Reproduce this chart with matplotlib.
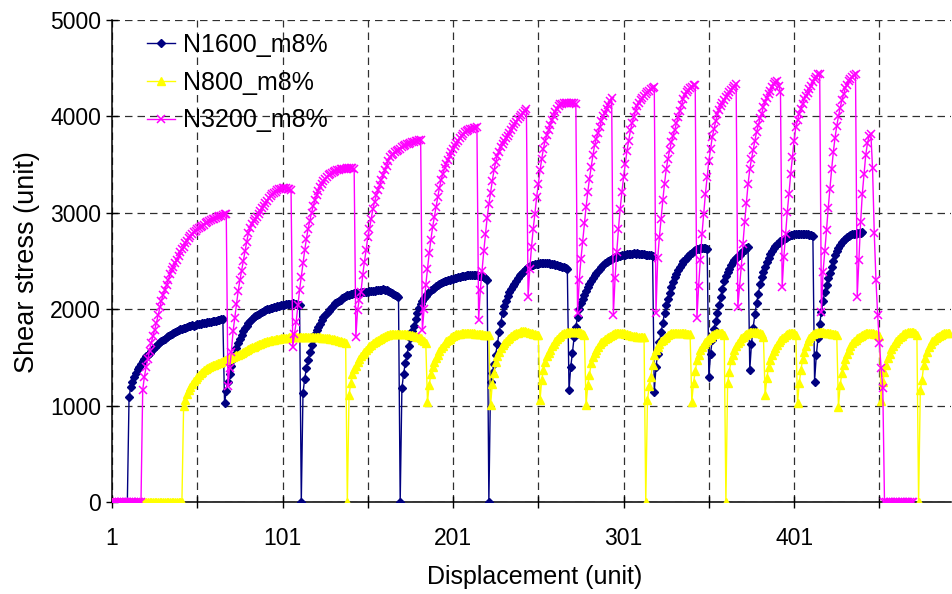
import numpy as np
import matplotlib
matplotlib.use("Agg")
import matplotlib.pyplot as plt

plt.rcParams['font.family'] = ['Liberation Sans', 'DejaVu Sans']

# ---------------- data ----------------
series_names = ["N1600_m8%", "N800_m8%", "N3200_m8%"]
x_tick_labels = ["1", "101", "201", "301", "401"]
y_ticks = [0, 1000, 2000, 3000, 4000, 5000]

n1600 = [
    0, 0, 0, 0, 0, 0, 0, 0, 0, 0,
    1090, 1190, 1250, 1300, 1340, 1375, 1405, 1435, 1460, 1485,
    1510, 1530, 1550, 1570, 1590, 1605, 1620, 1640, 1655, 1670,
    1680, 1695, 1710, 1720, 1735, 1745, 1755, 1765, 1770, 1780,
    1790, 1795, 1805, 1810, 1815, 1825, 1830, 1835, 1830, 1840,
    1845, 1850, 1850, 1855, 1860, 1860, 1865, 1870, 1870, 1875,
    1880, 1880, 1885, 1890, 1895, 1900,
    1025,
    1150, 1250, 1330, 1410, 1480, 1540, 1600, 1650, 1690, 1730,
    1770, 1800, 1830, 1855, 1880, 1900, 1915, 1930, 1945, 1955,
    1965, 1975, 1985, 1995, 2000, 2005, 2010, 2015, 2020, 2025,
    2030, 2035, 2040, 2040, 2045, 2050, 2055, 2050, 2055, 2060,
    2055, 2050, 2045, 2040,
    0,
    1130, 1280, 1385, 1470, 1555, 1625, 1690, 1740, 1780, 1815,
    1850, 1885, 1915, 1940, 1960, 1985, 2005, 2025, 2040, 2060,
    2075, 2090, 2100, 2115, 2125, 2135, 2145, 2150, 2155, 2160,
    2165, 2165, 2170, 2170, 2175, 2175, 2180, 2175, 2180, 2185,
    2190, 2185, 2190, 2195, 2195, 2200, 2200, 2205, 2200, 2195,
    2190, 2180, 2170, 2160, 2150, 2140, 2130,
    0,
    1180, 1330, 1440, 1530, 1620, 1700, 1770, 1830, 1900, 1960,
    2010, 2055, 2090, 2115, 2140, 2160, 2180, 2195, 2210, 2225,
    2240, 2250, 2260, 2270, 2280, 2290, 2295, 2300, 2305, 2310,
    2315, 2320, 2325, 2330, 2335, 2340, 2340, 2345, 2350, 2350,
    2355, 2355, 2350, 2355, 2350, 2345, 2345, 2340, 2335, 2320,
    2300,
    0,
    1250, 1340, 1430, 1530, 1640, 1760, 1860, 1960, 2030, 2090,
    2140, 2180, 2210, 2240, 2265, 2290, 2320, 2350, 2370, 2390,
    2405, 2420, 2435, 2445, 2455, 2460, 2465, 2470, 2470, 2475,
    2480, 2480, 2475, 2480, 2475, 2470, 2470, 2465, 2460, 2455,
    2450, 2445, 2440, 2435, 2425, 2420,
    1160,
    1400, 1550, 1710, 1820, 1920, 2000, 2060, 2110, 2150, 2190,
    2230, 2260, 2290, 2320, 2350, 2375, 2400, 2420, 2440, 2460,
    2475, 2490, 2505, 2515, 2525, 2535, 2540, 2545, 2550, 2555,
    2560, 2565, 2565, 2570, 2570, 2575, 2575, 2580, 2575, 2580,
    2575, 2575, 2570, 2570, 2565, 2565, 2560, 2560, 2555,
    1145,
    1400, 1540, 1660, 1760, 1860, 1960, 2040, 2110, 2170, 2230,
    2280, 2330, 2370, 2405, 2440, 2470, 2495, 2515, 2535, 2555,
    2570, 2585, 2600, 2610, 2620, 2625, 2630, 2635, 2635, 2630,
    2620,
    1300,
    1540, 1680, 1790, 1880, 1960, 2040, 2130, 2210, 2290, 2340,
    2385, 2420, 2455, 2490, 2510, 2530, 2550, 2565, 2585, 2600,
    2615, 2630, 2645,
    1370,
    1640, 1810, 1950, 2060, 2160, 2260, 2330, 2390, 2440, 2490,
    2530, 2570, 2600, 2630, 2655, 2675, 2690, 2705, 2720, 2730,
    2740, 2750, 2760, 2765, 2770, 2775, 2780, 2780, 2785, 2785,
    2785, 2785, 2780, 2775, 2770, 2765, 2755,
    1250,
    1520, 1700, 1850, 1970, 2090, 2180, 2250, 2320, 2380, 2440,
    2500, 2560, 2600, 2640, 2670, 2700, 2715, 2730, 2745, 2755,
    2765, 2775, 2780, 2785, 2790, 2790, 2795, 2800,
]

n800 = [
    0, 0, 0, 0, 0, 0, 0, 0, 0, 0,
    0, 0, 0, 0, 0, 0, 0, 0, 0, 0,
    0, 0, 0, 0, 0, 0, 0, 0, 0, 0,
    0, 0, 0, 0, 0, 0, 0, 0, 0, 0,
    0, 0,
    1000, 1060, 1120, 1160, 1195, 1225, 1255, 1280, 1300, 1320,
    1335, 1350, 1365, 1378, 1390, 1400, 1410, 1418, 1425, 1432,
    1440, 1447, 1455, 1462, 1470, 1477, 1485, 1492, 1500, 1507,
    1515, 1522, 1530, 1537, 1545, 1555, 1565, 1575, 1585, 1594,
    1603, 1612, 1620, 1628, 1636, 1643, 1650, 1657, 1663, 1668,
    1673, 1677, 1681, 1685, 1688, 1691, 1694, 1697, 1699, 1701,
    1703, 1705, 1707, 1708, 1710, 1711, 1712, 1713, 1714, 1714,
    1715, 1715, 1716, 1715, 1715, 1714, 1714, 1712, 1711, 1710,
    1708, 1706, 1704, 1702, 1700, 1697, 1694, 1690, 1686, 1682,
    1677, 1672, 1667, 1662, 1656, 1650,
    0,
    1110, 1230, 1330, 1380, 1410, 1450, 1485, 1510, 1535, 1560,
    1580, 1600, 1615, 1630, 1645, 1660, 1672, 1685, 1695, 1705,
    1715, 1722, 1728, 1735, 1740, 1742, 1745, 1745, 1746, 1745,
    1744, 1743, 1742, 1740, 1738, 1736, 1733, 1730, 1726, 1722,
    1716, 1708, 1698, 1685, 1668, 1650,
    1040,
    1210, 1330, 1400, 1450, 1490, 1530, 1565, 1595, 1620, 1645,
    1665, 1680, 1695, 1710, 1722, 1732, 1738, 1742, 1745, 1748,
    1750, 1750, 1752, 1752, 1750, 1750, 1748, 1746, 1745, 1742,
    1740, 1738, 1736, 1734, 1732, 1728,
    1007,
    1220, 1335, 1450, 1510, 1560, 1600, 1630, 1650, 1670, 1690,
    1705, 1720, 1732, 1742, 1750, 1758, 1765, 1770, 1772, 1770,
    1765, 1760, 1755, 1750, 1745, 1740, 1736, 1732,
    1059,
    1270, 1370, 1450, 1510, 1545, 1580, 1615, 1640, 1665, 1690,
    1710, 1725, 1738, 1748, 1756, 1762, 1766, 1768, 1768, 1767,
    1766, 1764, 1760, 1752, 1745, 1735,
    1007,
    1215, 1320, 1440, 1500, 1545, 1580, 1610, 1635, 1655, 1675,
    1690, 1702, 1715, 1725, 1735, 1742, 1748, 1750, 1752, 1752,
    1750, 1748, 1745, 1740, 1735, 1730, 1725, 1720, 1718, 1715,
    1715, 1714, 1712, 1710,
    0,
    1060, 1200, 1300, 1420, 1520, 1580, 1610, 1640, 1665, 1680,
    1700, 1715, 1728, 1740, 1748, 1752, 1755, 1756, 1756, 1755,
    1752, 1750, 1748, 1745, 1742, 1740,
    1041,
    1235, 1355, 1470, 1530, 1575, 1610, 1640, 1662, 1682, 1700,
    1715, 1730, 1740, 1748, 1754, 1756, 1755, 1748, 1735,
    0,
    1232, 1352, 1470, 1530, 1577, 1615, 1650, 1675, 1698, 1715,
    1730, 1742, 1752, 1760, 1765, 1766, 1765, 1762, 1758, 1750,
    1738, 1715,
    1111,
    1283, 1400, 1470, 1525, 1565, 1600, 1628, 1655, 1678, 1698,
    1714, 1728, 1740, 1750, 1756, 1758, 1750, 1732,
    1024,
    1232, 1370, 1480, 1560, 1620, 1665, 1700, 1725, 1740, 1750,
    1756, 1760, 1762, 1762, 1760, 1758, 1755, 1752, 1750, 1746,
    1742, 1738, 1730,
    990,
    1214, 1335, 1420, 1480, 1540, 1580, 1615, 1645, 1665, 1682,
    1698, 1712, 1725, 1735, 1742, 1748, 1750, 1752, 1750, 1748,
    1745, 1740, 1735, 1725,
    1050,
    1240, 1350, 1420, 1490, 1540, 1590, 1620, 1650, 1675, 1695,
    1712, 1725, 1738, 1748, 1755, 1760, 1765, 1766, 1762, 1752,
    1735,
    0,
    1160, 1266, 1420, 1490, 1560, 1610, 1640, 1665, 1685, 1700,
    1712, 1725, 1735, 1742, 1748, 1750, 1752, 1752,
]

n3200 = [
    0, 0, 0, 0, 0, 0, 0, 0, 0, 0,
    0, 0, 0, 0, 0, 0, 0, 0,
    1160, 1300, 1400, 1480, 1570, 1650, 1720, 1785, 1855, 1935,
    2020, 2090, 2150, 2200, 2255, 2300, 2360, 2405, 2440, 2480,
    2515, 2550, 2590, 2620, 2650, 2685, 2710, 2735, 2755, 2780,
    2800, 2815, 2828, 2840, 2852, 2865, 2878, 2890, 2902, 2912,
    2922, 2932, 2940, 2948, 2956, 2963, 2970, 2978, 2985, 2990,
    1200, 1390, 1560, 1770, 1910, 2050, 2190, 2300, 2400, 2500,
    2600, 2700, 2790, 2840, 2880, 2910, 2935, 2955, 2985, 3015,
    3045, 3075, 3100, 3125, 3150, 3170, 3190, 3205, 3220, 3232,
    3242, 3250, 3256, 3260, 3258, 3252, 3245, 3235,
    1610, 1740, 1870, 2040, 2200, 2335, 2475, 2610, 2730, 2835,
    2920, 3000, 3070, 3130, 3180, 3230, 3265, 3300, 3330, 3350,
    3370, 3390, 3405, 3415, 3425, 3432, 3440, 3445, 3450, 3452,
    3455, 3458, 3460, 3460, 3462, 3460, 3458,
    1710, 1990, 2100, 2180, 2350, 2490, 2610, 2750, 2835, 2940,
    3040, 3115, 3180, 3235, 3290, 3340, 3390, 3440, 3490, 3540,
    3575, 3595, 3612, 3628, 3642, 3655, 3667, 3678, 3689, 3699,
    3710, 3718, 3726, 3733, 3739, 3744, 3748, 3751, 3752,
    1780, 2000, 2250, 2420, 2580, 2720, 2850, 2955, 3055, 3160,
    3260, 3340, 3405, 3460, 3510, 3550, 3590, 3628, 3660, 3692,
    3722, 3750, 3775, 3798, 3818, 3836, 3848, 3858, 3866, 3872,
    3878, 3884, 3888,
    1890, 2200, 2400, 2600, 2780, 2950, 3090, 3210, 3330, 3440,
    3530, 3590, 3635, 3680, 3715, 3745, 3775, 3800, 3830, 3860,
    3890, 3920, 3945, 3968, 3990, 4010, 4035, 4060, 4080,
    2130, 2420, 2645, 2835, 2990, 3160, 3300, 3440, 3560, 3665,
    3750, 3805, 3855, 3910, 3960, 4000, 4045, 4080, 4110, 4125,
    4132, 4137, 4138, 4140, 4138, 4137, 4136, 4134, 4130,
    1960, 2300, 2520, 2700, 2890, 3060, 3215, 3355, 3475, 3595,
    3700, 3770, 3830, 3890, 3950, 4000, 4040, 4080, 4120, 4160,
    4195,
    1940, 2320, 2595, 2835, 3040, 3215, 3370, 3510, 3645, 3750,
    3855, 3930, 3995, 4060, 4110, 4140, 4165, 4190, 4215, 4235,
    4252, 4268, 4283, 4295, 4302,
    1960, 2526, 2749, 2940, 3129, 3302, 3450, 3560, 3650, 3730,
    3800, 3860, 3930, 3990, 4060, 4120, 4180, 4220, 4250, 4275,
    4295, 4310, 4325, 4330,
    1905, 2240, 2510, 2785, 2990, 3200, 3370, 3540, 3665, 3785,
    3870, 3950, 4020, 4070, 4110, 4140, 4170, 4200, 4225, 4250,
    4270, 4295, 4320, 4340,
    2025, 2230, 2440, 2680, 2900, 3100, 3300, 3450, 3560, 3650,
    3750, 3840, 3906, 3980, 4030, 4100, 4150, 4190, 4235, 4265,
    4300, 4337, 4355, 4372, 4320, 4250,
    2232, 2545, 2785, 3010, 3200, 3405, 3580, 3750, 3890, 3960,
    4030, 4080, 4130, 4180, 4215, 4245, 4280, 4320, 4360, 4385,
    4410, 4435, 4445,
    1973, 2390, 2600, 2820, 3050, 3250, 3450, 3630, 3780, 3900,
    4000, 4090, 4165, 4230, 4290, 4330, 4365, 4390, 4410, 4430,
    4445,
    2128, 2508, 2900, 3200, 3400, 3600, 3720, 3800, 3820, 3460,
    2790, 2300, 1940, 1650, 1390, 1180,
    0, 0, 0, 0, 0, 0, 0, 0, 0, 0,
    0, 0, 0, 0, 0, 0, 0, 0,
]

# ---------------- figure ----------------
W, H = 953, 594
fig = plt.figure(figsize=(W / 100, H / 100), dpi=100)
L, R, T, B = 112, 951, 20, 502
ax = fig.add_axes([L / W, 1 - B / H, (R - L) / W, (B - T) / H])

x1 = np.arange(1, len(n1600) + 1)
x2 = np.arange(1, len(n800) + 1)
x3 = np.arange(1, len(n3200) + 1)

ax.plot(x1, n1600, color='#000080', marker='D', ms=4.2, lw=1.0,
        mec='#000080', mfc='#000080', label=series_names[0], zorder=3)
ax.plot(x2, n800, color='#FFFF00', marker='^', ms=5.5, lw=1.0,
        mec='#FFFF00', mfc='#FFFF00', label=series_names[1], zorder=4)
ax.plot(x3, n3200, color='#FF00FF', marker='x', ms=5.8, mew=1.1, lw=1.0,
        label=series_names[2], zorder=5)

ax.set_xlim(1, 493)
ax.set_ylim(0, 5000)

major_x = list(range(1, 452, 50))
ax.set_xticks(major_x)
ax.set_xticklabels([str(v) if str(v) in x_tick_labels else '' for v in major_x])
ax.set_yticks(y_ticks)
ax.set_yticklabels([str(v) for v in y_ticks])

ax.grid(True, which='major', color='#303030', lw=0.9, linestyle=(0, (6, 4)))
ax.set_axisbelow(True)

for s in ['top', 'right']:
    ax.spines[s].set_visible(False)
for s in ['left', 'bottom']:
    ax.spines[s].set_color('black')
    ax.spines[s].set_linewidth(1.1)
    ax.spines[s].set_zorder(2)

ax.tick_params(axis='both', direction='inout', length=8, width=1.0,
               colors='black', labelsize=16.5)
ax.tick_params(axis='x', pad=14)
ax.tick_params(axis='y', pad=4)

ax.set_xlabel('Displacement (unit)', fontsize=18)
ax.set_ylabel('Shear stress (unit)', fontsize=19.5)
ax.xaxis.set_label_coords((535 - L) / (R - L), (B - 565) / (B - T))
ax.yaxis.set_label_coords((40 - L) / (R - L), (B - 262) / (B - T))

leg = ax.legend(loc='upper left', bbox_to_anchor=((147 - L) / (R - L), (B - 33) / (B - T)),
                frameon=False, fontsize=18, handlelength=1.12, handletextpad=0.33,
                labelspacing=0.55, borderpad=0, borderaxespad=0)

fig.savefig('out.png', dpi=100)
